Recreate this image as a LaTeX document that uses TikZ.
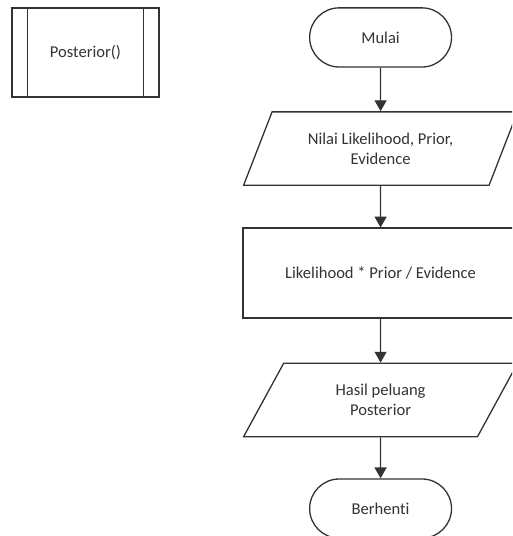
\documentclass[tikz,border=0pt]{standalone}
\usepackage{fontspec}
\setmainfont[Ligatures=NoCommon]{Carlito}
\usetikzlibrary{arrows.meta,calc,shapes.geometric,shapes.misc}

\begin{document}
\begin{tikzpicture}[>={Triangle[length=3.8mm,width=4.2mm]},
		color=black!80, line width=1.3pt,
		every node/.style={font=\fontsize{16.5}{20}\selectfont},
		terminal/.style={draw, rounded rectangle, minimum width=5.2cm, minimum height=2.07cm},
		io/.style={draw, trapezium, trapezium left angle=62.5, trapezium right angle=117.5, trapezium stretches=true, minimum width=9.6cm, minimum height=2.57cm, align=center},
		process/.style={draw, rectangle, minimum width=9.63cm, minimum height=3.15cm}]
	\clip (0,0) rectangle (17.92,18.76);
	\node[draw, minimum width=5.15cm, minimum height=3.12cm] (sub) at (2.99,16.92) {Posterior()};
	\draw ($(sub.north west)+(0.56,0)$) -- ($(sub.south west)+(0.56,0)$);
	\draw ($(sub.north east)-(0.56,0)$) -- ($(sub.south east)-(0.56,0)$);
	\node[terminal] (mulai) at (13.32,17.45) {Mulai};
	\node[io] (input) at (13.32,13.56) {Nilai Likelihood, Prior,\\Evidence};
	\node[process] (hitung) at (13.32,9.2) {Likelihood * Prior / Evidence};
	\node[io] (output) at (13.32,4.76) {Hasil peluang\\Posterior};
	\node[terminal] (berhenti) at (13.32,0.96) {Berhenti};
	\draw[->] (mulai) -- (input);
	\draw[->] (input) -- (hitung);
	\draw[->] (hitung) -- (output);
	\draw[->] (output) -- (berhenti);
\end{tikzpicture}
\end{document}
